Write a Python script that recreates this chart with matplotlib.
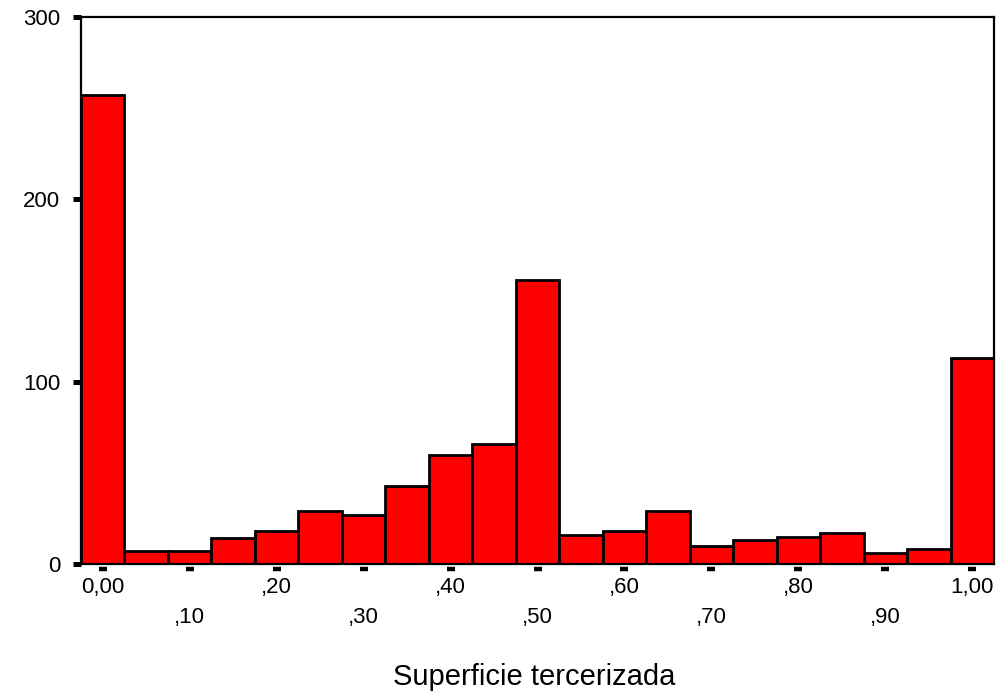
import numpy as np
import matplotlib
matplotlib.use("Agg")
import matplotlib.pyplot as plt
from matplotlib.transforms import offset_copy

plt.rcParams['font.family'] = ['Liberation Sans', 'DejaVu Sans']

# bin centres (width 0,05) and counts
bin_centres = np.round(np.arange(0, 1.0001, 0.05), 2)
counts = [257, 7, 7, 14, 18, 29, 27, 43, 60, 66, 156, 16, 18, 29, 10, 13, 15, 17, 6, 8, 113]
bin_width = 0.05

xticks = np.round(np.arange(0, 1.0001, 0.1), 2)
xtick_labels = ["0,00", ",10", ",20", ",30", ",40", ",50", ",60", ",70", ",80", ",90", "1,00"]
yticks = [0, 100, 200, 300]
xlabel = "Superficie tercerizada"

fig = plt.figure(figsize=(10.08, 6.96), dpi=100)
ax = fig.add_axes([81/1008, 1 - 564/696, 913/1008, 547/696])

ax.bar(bin_centres, counts, width=bin_width, color="#ff0000", edgecolor="black",
       linewidth=2.0, align="center")

ax.set_xlim(-0.025, 1.025)
ax.set_ylim(0, 300)

for s in ax.spines.values():
    s.set_linewidth(1.6)
    s.set_color("black")

# y ticks: small black blocks outside the left spine
ax.set_yticks(yticks)
ax.set_yticklabels([str(v) for v in yticks])
ax.tick_params(axis="y", direction="out", length=5.8, width=3.6, pad=9, labelsize=16)

# x ticks: labels on two alternating rows, short dashes below the axis
ax.set_xticks(xticks)
ax.set_xticklabels(xtick_labels)
ax.tick_params(axis="x", length=0, labelsize=16)
for i, t in enumerate(ax.xaxis.get_major_ticks()):
    t.set_pad(9.7 if i % 2 == 0 else 31.3)

trans = offset_copy(ax.get_xaxis_transform(), fig=fig, x=0, y=-5, units="dots")
ax.plot(xticks, np.zeros(len(xticks)), ls="", marker="_", ms=5.8, mew=3.2,
        color="black", transform=trans, clip_on=False)

fig.text(534/1008, 1 - 677/696, xlabel, ha="center", va="center", fontsize=21)

plt.savefig("out.png", dpi=100)
